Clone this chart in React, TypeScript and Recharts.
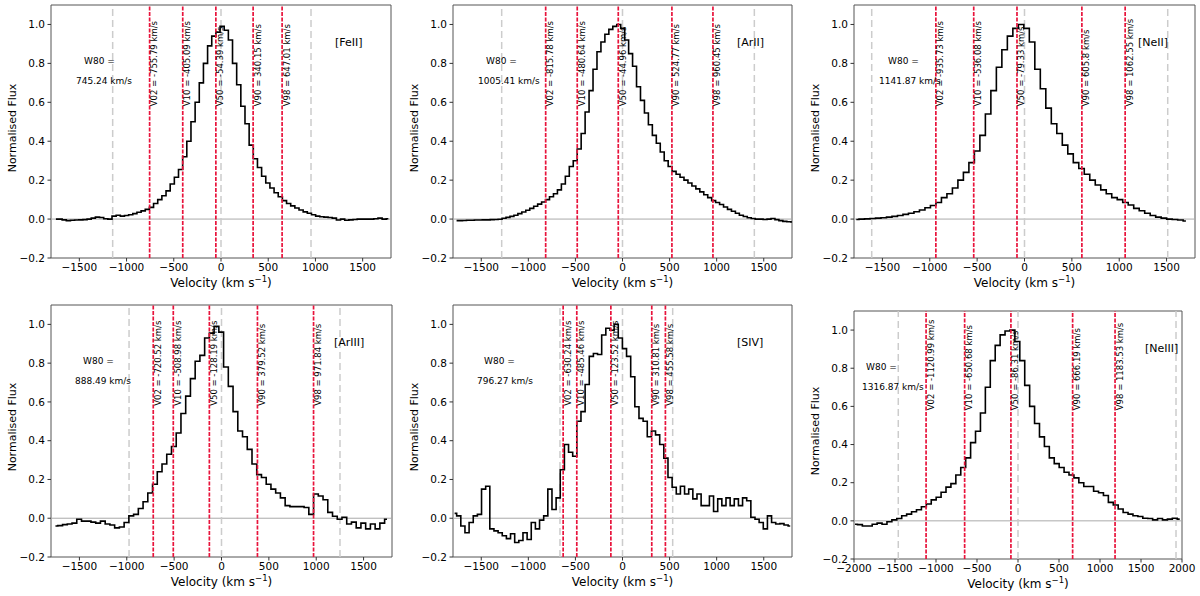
import React from 'react';
import { LineChart, Line, XAxis, YAxis, ReferenceLine, ReferenceArea } from 'recharts';

// velocity percentiles shown as red lines
const velNames = ['V02', 'V10', 'V50', 'V90', 'V98'];

const ticks1800 = [-1500, -1000, -500, 0, 500, 1000, 1500];
const ticks2000 = [-2000, -1500, -1000, -500, 0, 500, 1000, 1500, 2000];
const fluxTicks = [-0.2, 0, 0.2, 0.4, 0.6, 0.8, 1.0];

// [FeII]
const feiiStart = -1748;
const feiiBin = 44;
const feiiFlux = [
  0.0, 0.0, -0.004, -0.008, -0.006, -0.005, -0.004, -0.003, 0.0, 0.005,
  0.01, 0.008, 0.002, 0.0, 0.015, 0.02, 0.015, 0.018, 0.022, 0.028,
  0.035, 0.042, 0.05, 0.06, 0.08, 0.10, 0.12, 0.145, 0.18, 0.215,
  0.255, 0.32, 0.40, 0.50, 0.60, 0.70, 0.80, 0.89, 0.94, 0.96,
  0.99, 0.97, 0.92, 0.80, 0.69, 0.58, 0.49, 0.38, 0.31, 0.265,
  0.22, 0.185, 0.16, 0.135, 0.115, 0.095, 0.08, 0.068, 0.057, 0.047,
  0.037, 0.03, 0.022, 0.015, 0.012, 0.01, 0.008, 0.005, -0.005, 0.0,
  -0.006, -0.004, -0.002, 0.0, 0.0, 0.0, 0.0, 0.002, 0.005, 0.0, 0.002,
];
const feiiVel = ['-755.79', '-405.09', '-54.39', '340.15', '647.01'];
const feiiGrey = [-1147, 0, 953];

// [ArII]
const ariiStart = -1762;
const ariiBin = 42;
const ariiFlux = [
  -0.008, -0.008, -0.007, -0.006, -0.006, -0.005, -0.005, -0.004, -0.004, -0.003,
  -0.002, -0.001, 0.004, 0.009, 0.014, 0.02, 0.028, 0.036, 0.045, 0.055,
  0.066, 0.077, 0.088, 0.10, 0.115, 0.13, 0.15, 0.18, 0.22, 0.27,
  0.30, 0.36, 0.44, 0.55, 0.66, 0.77, 0.86, 0.91, 0.95, 0.975,
  0.99, 1.0, 0.98, 0.92, 0.85, 0.785, 0.68, 0.61, 0.545, 0.485,
  0.43, 0.39, 0.345, 0.30, 0.27, 0.245, 0.23, 0.215, 0.20, 0.185,
  0.17, 0.155, 0.14, 0.125, 0.11, 0.095, 0.085, 0.075, 0.062, 0.05,
  0.04, 0.03, 0.02, 0.013, 0.007, 0.003, 0.0, 0.0, -0.002, 0.0,
  0.003, -0.003, -0.008, -0.012, -0.014, -0.015,
];
const ariiVel = ['-815.78', '-480.64', '-44.96', '524.77', '960.45'];
const ariiGrey = [-1283, 0, 1400];

// [NeII]
const neiiStart = -1776;
const neiiBin = 58;
const neiiFlux = [
  -0.002, 0.0, 0.001, 0.003, 0.005, 0.007, 0.01, 0.014, 0.018, 0.024,
  0.03, 0.038, 0.047, 0.058, 0.07, 0.085, 0.11, 0.13, 0.16, 0.20,
  0.24, 0.29, 0.35, 0.43, 0.54, 0.66, 0.78, 0.87, 0.94, 0.98,
  1.0,
  0.98, 0.91, 0.77, 0.67, 0.57, 0.49, 0.44, 0.38, 0.335, 0.29,
  0.26, 0.23, 0.20, 0.175, 0.15, 0.13, 0.11, 0.10, 0.085, 0.072,
  0.055, 0.043, 0.03, 0.018, 0.01, 0.005, 0.0, -0.002, -0.005, -0.01,
];
const neiiVel = ['-935.73', '-536.08', '-79.33', '605.8', '1062.55'];
const neiiGrey = [-1613, 0, 1512];

// [ArIII]
const ariiiStart = -1753;
const ariiiBin = 50;
const ariiiFlux = [
  -0.04, -0.038, -0.033, -0.03, -0.025, -0.005, -0.015, -0.015, -0.02, -0.025,
  -0.015, -0.03, -0.035, -0.05, -0.045, -0.022, 0.012, 0.02, 0.05, 0.085,
  0.13, 0.175, 0.24, 0.28, 0.33, 0.37, 0.44, 0.54, 0.63, 0.72,
  0.81, 0.84, 0.93, 0.955, 0.99, 0.96, 0.78, 0.68, 0.55, 0.45,
  0.42, 0.355, 0.28, 0.225, 0.21, 0.175, 0.15, 0.13, 0.105, 0.065,
  0.06, 0.06, 0.06, 0.055, 0.02, 0.125, 0.115, 0.095, 0.03, 0.01,
  -0.005, 0.005, -0.03, -0.02, -0.05, -0.025, -0.055, -0.03, -0.055, -0.025,
  -0.005,
];
const ariiiVel = ['-720.52', '-508.98', '-128.19', '379.52', '971.84'];
const ariiiGrey = [-976, 0, 1251];

// [SIV]
const sivStart = -1783;
const sivBin = 44;
const sivFlux = [
  0.025, 0.012, -0.04, -0.075, -0.022, 0.012, 0.02, 0.15, 0.165, -0.055,
  -0.065, -0.075, -0.09, -0.105, -0.08, -0.125, -0.115, -0.075, -0.11, -0.022,
  -0.055, -0.01, 0.012, 0.15, 0.045, 0.105, 0.25, 0.38, 0.34, 0.32,
  0.50, 0.55, 0.69, 0.835, 0.85, 0.845, 0.945, 0.98, 0.97, 1.0,
  0.93, 0.875, 0.835, 0.73, 0.575, 0.515, 0.50, 0.42, 0.45, 0.43,
  0.38, 0.31, 0.21, 0.16, 0.125, 0.165, 0.125, 0.15, 0.10, 0.125,
  0.065, 0.065, 0.115, 0.035, 0.10, 0.065, 0.105, 0.065, 0.10, 0.065,
  0.105, 0.09, 0.005, -0.005, -0.022, -0.055, 0.012, -0.022, -0.03, -0.028,
  -0.035, -0.04,
];
const sivVel = ['-630.24', '-485.46', '-123.52', '310.81', '455.58'];
const sivGrey = [-664, 0, 533];

// [NeIII]
const neiiiStart = -1988;
const neiiiBin = 60;
const neiiiFlux = [
  -0.018, -0.02, -0.027, -0.027, -0.018, -0.012, -0.018, -0.005, 0.005, 0.012,
  0.027, 0.035, 0.048, 0.058, 0.074, 0.088, 0.11, 0.124, 0.15, 0.177,
  0.195, 0.24, 0.28, 0.33, 0.41, 0.47, 0.565, 0.70, 0.84, 0.92,
  0.975, 0.995,
  1.0, 0.94, 0.84, 0.71, 0.60, 0.51, 0.44, 0.39, 0.33, 0.30,
  0.28, 0.255, 0.24, 0.225, 0.20, 0.18, 0.18, 0.155, 0.147, 0.133,
  0.097, 0.083, 0.062, 0.044, 0.035, 0.027, 0.023, 0.014, 0.012, 0.005,
  0.012, 0.005, 0.009, 0.014, 0.009,
];
const neiiiVel = ['-1120.99', '-650.68', '-86.31', '666.19', '1183.53'];
const neiiiGrey = [-1460, 0, 1927];

const w80Values = ['745.24', '1005.41', '1141.87', '888.49', '796.27', '1316.87'];
const lineNames = ['[FeII]', '[ArII]', '[NeII]', '[ArIII]', '[SIV]', '[NeIII]'];

// layout: wrapper position/size and plot rectangle inside it
const layout = [
  { x0: 0, y0: 0, w: 400, h: 296, L: 51, R: 391, T: 5, B: 258, wx: 33, vx: 25, nx: 284 },
  { x0: 400, y0: 0, w: 400, h: 296, L: 53, R: 392, T: 5, B: 258, wx: 33, vx: 25, nx: 284 },
  { x0: 800, y0: 0, w: 400, h: 296, L: 54, R: 395, T: 5, B: 258, wx: 34, vx: 25, nx: 284 },
  { x0: 0, y0: 296, w: 400, h: 300, L: 51, R: 392, T: 9, B: 261, wx: 32, vx: 24, nx: 283 },
  { x0: 400, y0: 296, w: 400, h: 300, L: 53, R: 392, T: 9, B: 261, wx: 31, vx: 24, nx: 284 },
  { x0: 800, y0: 296, w: 400, h: 300, L: 54, R: 382, T: 15, B: 263, wx: 12, vx: 8, nx: 291 },
];

const panels = [
  { start: feiiStart, bin: feiiBin, flux: feiiFlux, vel: feiiVel, grey: feiiGrey, dom: [-1800, 1800], ticks: ticks1800 },
  { start: ariiStart, bin: ariiBin, flux: ariiFlux, vel: ariiVel, grey: ariiGrey, dom: [-1800, 1800], ticks: ticks1800 },
  { start: neiiStart, bin: neiiBin, flux: neiiFlux, vel: neiiVel, grey: neiiGrey, dom: [-1800, 1800], ticks: ticks1800 },
  { start: ariiiStart, bin: ariiiBin, flux: ariiiFlux, vel: ariiiVel, grey: ariiiGrey, dom: [-1800, 1800], ticks: ticks1800 },
  { start: sivStart, bin: sivBin, flux: sivFlux, vel: sivVel, grey: sivGrey, dom: [-1800, 1800], ticks: ticks1800 },
  { start: neiiiStart, bin: neiiiBin, flux: neiiiFlux, vel: neiiiVel, grey: neiiiGrey, dom: [-2000, 2000], ticks: ticks2000 },
];

const minus = (s: string) => s.replace('-', '\u2212');
const fmtX = (v: number) => minus(String(v));
const fmtY = (v: number) => minus(v.toFixed(1));

const RED = '#e8143c';

function velLabel(text: string) {
  return (props: any) => {
    const vb = props.viewBox || {};
    const x = vb.x + 7.5;
    const y = vb.y + (0.52 / 1.3) * vb.height;
    return (
      <text x={x} y={y} transform={`rotate(-90 ${x} ${y})`} fontSize={8.5} fill="#000" textAnchor="start">
        {text}
      </text>
    );
  };
}

function Panel({ idx }: { idx: number }) {
  const p = panels[idx];
  const b = layout[idx];
  const data = p.flux.map((f, i) => ({ v: p.start + i * p.bin, f }));
  const txt: React.CSSProperties = { position: 'absolute', whiteSpace: 'nowrap', color: '#000', lineHeight: 1 };
  return (
    <div style={{ position: 'absolute', left: b.x0, top: b.y0, width: b.w, height: b.h }}>
      <LineChart width={b.w} height={b.h} data={data} margin={{ top: b.T, right: b.w - b.R, left: 0, bottom: 0 }}>
        <XAxis
          type="number"
          dataKey="v"
          domain={p.dom}
          ticks={p.ticks}
          interval={0}
          allowDataOverflow
          height={b.h - b.B}
          tickSize={3.5}
          tickMargin={2}
          tickFormatter={fmtX}
          axisLine={false}
          tickLine={{ stroke: '#333' }}
          tick={{ fontSize: 10.5, fill: '#000' }}
        />
        <YAxis
          type="number"
          domain={[-0.2, 1.1]}
          ticks={fluxTicks}
          interval={0}
          allowDataOverflow
          width={b.L}
          tickSize={3.5}
          tickMargin={2.5}
          tickFormatter={fmtY}
          axisLine={false}
          tickLine={{ stroke: '#333' }}
          tick={{ fontSize: 10.5, fill: '#000' }}
        />
        <ReferenceLine y={0} stroke="#aaaaaa" strokeWidth={1} />
        {p.grey.map((g) => (
          <ReferenceLine key={'g' + g} x={g} stroke="#cccccc" strokeWidth={1.5} strokeDasharray="7 4" />
        ))}
        <Line type="step" dataKey="f" stroke="#000" strokeWidth={1.6} dot={false} isAnimationActive={false} />
        {p.vel.map((s, i) => (
          <ReferenceLine
            key={'r' + i}
            x={parseFloat(s)}
            stroke={RED}
            strokeWidth={1.7}
            strokeDasharray="4 1.5"
            label={velLabel(`${velNames[i]} = ${s} km/s`)}
          />
        ))}
        <ReferenceArea x1={p.dom[0]} x2={p.dom[1]} y1={-0.2} y2={1.1} fill="none" stroke="#555" strokeWidth={1} />
      </LineChart>
      <div style={{ ...txt, fontSize: 11, left: b.L - 39, top: (b.T + b.B) / 2 - 4, transform: 'translate(-50%, -50%) rotate(-90deg)' }}>
        Normalised Flux
      </div>
      <div style={{ ...txt, fontSize: 12, left: (b.L + b.R) / 2, top: b.B + 25, transform: 'translate(-50%, -50%)' }}>
        Velocity (km s<span style={{ fontSize: 8.5, position: 'relative', top: -5 }}>{'\u22121'}</span>)
      </div>
      <div style={{ ...txt, fontSize: 9, left: b.L + b.wx, top: b.T + 56, transform: 'translateY(-50%)' }}>W80 =</div>
      <div style={{ ...txt, fontSize: 9, left: b.L + b.vx, top: b.T + 76, transform: 'translateY(-50%)' }}>
        {w80Values[idx]} km/s
      </div>
      <div style={{ ...txt, fontSize: 11, left: b.L + b.nx, top: b.T + 37, transform: 'translateY(-50%)' }}>
        {lineNames[idx]}
      </div>
    </div>
  );
}

export default function App() {
  return (
    <div
      style={{
        position: 'absolute',
        left: 0,
        top: 0,
        width: 1200,
        height: 596,
        background: '#fff',
        fontFamily: '"DejaVu Sans", sans-serif',
      }}
    >
      {panels.map((_, i) => (
        <Panel key={i} idx={i} />
      ))}
    </div>
  );
}
